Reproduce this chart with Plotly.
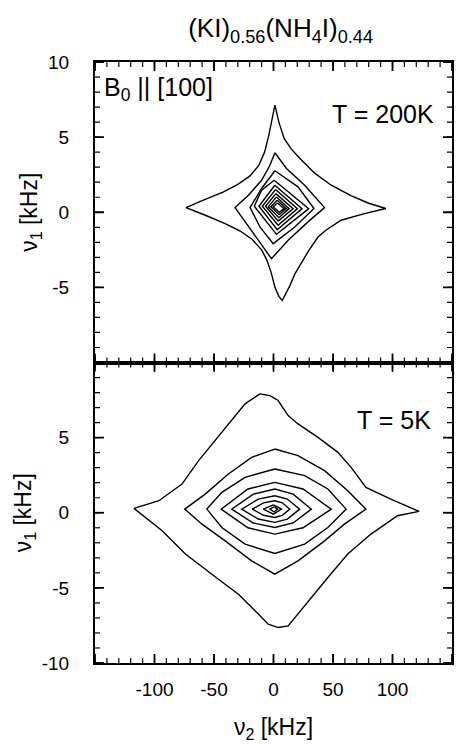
import plotly.graph_objects as go

# ---------------- data ----------------
title_text = "(KI)<sub>0.56</sub>(NH<sub>4</sub>I)<sub>0.44</sub>"
x_tickvals = [-100, -50, 0, 50, 100]
x_ticktext = ["-100", "-50", "0", "50", "100"]
top_y_tickvals = [10, 5, 0, -5]
top_y_ticktext = ["10", "5", "0", "-5"]
bot_y_tickvals = [5, 0, -5, -10]
bot_y_ticktext = ["5", "0", "-5", "-10"]
x_major_step = 50      # kHz between long nu2 ticks
x_minor_step = 10
y_major_step = 5       # kHz between long nu1 ticks
y_minor_step = 1
x_range = [-150, 150]
y_range = [-10, 10]

# T = 200 K contours (nu2 [kHz], nu1 [kHz]), outer -> inner
top_x = [
    [1.2, 4.5, 9.0, 15.0, 22.0, 34.6, 48.5, 65.0, 80.0, 94.4, 76.4, 56.8, 44.0, 37.4, 30.0, 24.0, 18.0, 13.7, 10.0, 7.3,
     4.5, 1.2, -2.0, -5.5, -10.0, -18.0, -28.0, -40.6, -57.3, -73.5, -62.0, -54.6, -42.0, -30.0, -20.0, -12.5, -7.5, -4.0, -1.5],
    [1.2, 10.9, 26.2, 42.9, 29.0, 12.3, -1.7, -12.8, -23.9, -32.3, -21.1, -10.0, -3.0],
    [1.2, 20.6, 34.0, 17.9, -0.25, -11.4, -19.7, -10.0],
    [0.6, 29.6, 2.5, -16.1, -10.0],
    [1.1, 24.0, 3.1, -12.2],
    [1.7, 20.1, 3.9, -9.4],
    [2.0, 16.5, 3.9, -6.7],
    [2.5, 13.1, 4.5, -4.4],
    [3.1, 10.9, 4.8, -2.2],
    [3.4, 8.9, 4.8, -0.25],
]
top_y = [
    [7.13, 6.0, 4.9, 4.2, 3.6, 2.6, 1.8, 1.1, 0.6, 0.25, -0.09, -0.53, -1.2, -1.65, -2.5, -3.3, -4.1, -4.9, -5.5, -5.87,
     -5.6, -5.0, -4.0, -3.2, -2.5, -1.8, -1.25, -0.75, -0.2, 0.31, 0.7, 0.95, 1.35, 1.85, 2.4, 3.1, 4.0, 5.1, 6.2],
    [3.96, 2.91, 1.8, 0.31, -0.64, -1.87, -3.09, -1.87, -0.64, 0.31, 1.13, 2.13, 3.13],
    [2.76, 1.69, 0.25, -0.98, -2.09, -0.98, 0.31, 1.58],
    [2.13, 0.24, -1.47, 0.4, 1.47],
    [1.8, 0.24, -1.16, 0.4],
    [1.51, 0.24, -0.87, 0.4],
    [1.24, 0.24, -0.58, 0.4],
    [1.02, 0.24, -0.36, 0.36],
    [0.8, 0.24, -0.16, 0.36],
    [0.62, 0.24, 0.0, 0.36],
]

# T = 5 K contours, outer -> inner
bot_x = [
    [-11.4, -3.0, 3.9, 12.3, 20.6, 37.4, 54.1, 65.2, 77.7, 98.6, 122.3, 104.2, 81.9, 62.4, 45.7, 31.8, 20.6, 12.3, 3.9, -4.4,
     -15.5, -29.5, -51.8, -74.0, -93.6, -117.2, -96.3, -76.9, -62.9, -49.0, -35.1, -23.9],
    [1.1, 20.6, 42.9, 62.4, 77.7, 59.6, 42.9, 20.6, 1.1, -18.4, -40.6, -60.1, -74.6, -57.4, -37.9, -18.4],
    [1.1, 26.2, 45.7, 61.0, 45.7, 26.2, 1.1, -23.9, -43.4, -56.0, -43.4, -23.9],
    [1.1, 24.8, 48.5, 24.8, 1.1, -21.5, -44.0, -21.5],
    [1.1, 16.5, 31.8, 16.5, 1.1, -17.0, -35.1, -17.0],
    [1.1, 11.6, 22.0, 11.6, 1.1, -12.8, -26.7, -12.8],
    [1.1, 7.4, 13.7, 7.4, 1.1, -8.4, -17.8, -8.4],
    [0.0, 6.7, 0.0, -8.6],
    [0.5, 3.5, 0.5, -3.0],
]
bot_y = [
    [7.91, 7.8, 7.47, 6.47, 5.91, 5.02, 4.02, 3.02, 1.69, 0.91, 0.09, -0.2, -1.42, -2.75, -4.31, -5.64, -6.76, -7.53, -7.64, -7.42,
     -6.53, -5.42, -4.09, -2.75, -1.2, 0.29, 0.8, 1.91, 3.47, 4.8, 6.13, 7.25],
    [4.24, 3.8, 2.8, 1.47, 0.24, -0.76, -1.87, -3.2, -4.09, -3.2, -1.87, -0.76, 0.24, 1.24, 2.58, 3.69],
    [2.91, 2.47, 1.58, 0.24, -0.98, -2.09, -2.71, -2.09, -0.98, 0.24, 1.36, 2.36],
    [2.02, 1.58, 0.24, -1.0, -1.42, -1.0, 0.24, 1.58],
    [1.58, 1.24, 0.24, -0.68, -0.98, -0.68, 0.24, 1.24],
    [1.13, 0.91, 0.24, -0.42, -0.64, -0.42, 0.24, 0.91],
    [0.8, 0.66, 0.24, -0.17, -0.31, -0.17, 0.24, 0.66],
    [0.53, 0.24, -0.09, 0.24],
    [0.4, 0.24, 0.05, 0.24],
]

# ---------------- figure ----------------
FONT = "Liberation Sans, Arial, Helvetica, sans-serif"
W, H = 458, 744
M = dict(l=95, r=4, t=62, b=81)
fig = go.Figure()

def add_contours(xs, ys, xa, ya):
    for cx, cy in zip(xs, ys):
        fig.add_trace(go.Scatter(
            x=list(cx) + [cx[0]], y=list(cy) + [cy[0]],
            mode="lines", line=dict(color="black", width=1.4),
            xaxis=xa, yaxis=ya, showlegend=False, hoverinfo="skip"))

add_contours(top_x, top_y, "x", "y")
add_contours(bot_x, bot_y, "x2", "y2")

# inward tick marks on all four sides of each panel, placed through the axes' own scales
plot_w = W - M["l"] - M["r"]
panel_h = (H - M["t"] - M["b"]) / 2
x_per_px = (x_range[1] - x_range[0]) / plot_w
y_per_px = (y_range[1] - y_range[0]) / panel_h

def tick_positions(lo, hi, step):
    k = -(-lo // step)
    vals = []
    while k * step <= hi + 1e-9:
        vals.append(k * step)
        k += 1
    return vals

def add_ticks(xa, ya, major_px, minor_px):
    for step, length_px, width in ((x_minor_step, minor_px, 1.2), (x_major_step, major_px, 1.8)):
        xs, ys = [], []
        dy = length_px * y_per_px
        for v in tick_positions(x_range[0], x_range[1], step):
            xs += [v, v, None, v, v, None]
            ys += [y_range[0], y_range[0] + dy, None, y_range[1], y_range[1] - dy, None]
        fig.add_trace(go.Scatter(x=xs, y=ys, mode="lines", line=dict(color="black", width=width),
                                 connectgaps=False, xaxis=xa, yaxis=ya, showlegend=False, hoverinfo="skip"))
    for step, length_px, width in ((y_minor_step, minor_px, 1.2), (y_major_step, major_px, 1.8)):
        xs, ys = [], []
        dx = length_px * x_per_px
        for v in tick_positions(y_range[0], y_range[1], step):
            xs += [x_range[0], x_range[0] + dx, None, x_range[1], x_range[1] - dx, None]
            ys += [v, v, None, v, v, None]
        fig.add_trace(go.Scatter(x=xs, y=ys, mode="lines", line=dict(color="black", width=width),
                                 connectgaps=False, xaxis=xa, yaxis=ya, showlegend=False, hoverinfo="skip"))

add_ticks("x", "y", 9, 5)
add_ticks("x2", "y2", 9, 5)

tickfont = dict(family=FONT, size=19, color="black")
lab_font = dict(family=FONT, size=23, color="black")

def axis(**kw):
    return dict(showgrid=False, zeroline=False, showline=True, linecolor="black", linewidth=2,
                mirror="ticks", ticks="inside", ticklen=9, tickcolor="black", tickwidth=1,
                tickmode="array", tickfont=tickfont, **kw)

ytitle = dict(text="ν<sub>1</sub> [kHz]", font=lab_font, standoff=4)

fig.update_layout(
    width=W, height=H, margin=M,
    paper_bgcolor="white", plot_bgcolor="white",
    title=dict(text=title_text, x=0.52, xref="paper", xanchor="center",
               y=0.962, yref="container", yanchor="middle",
               font=dict(family=FONT, size=26, color="black")),
    xaxis=axis(domain=[0, 1], anchor="y", range=x_range, tickvals=x_tickvals, ticktext=x_ticktext,
               showticklabels=False),
    yaxis=axis(domain=[0.5, 1], anchor="x", range=y_range, tickvals=top_y_tickvals, ticktext=top_y_ticktext,
               ticklabelstandoff=20, title=ytitle),
    xaxis2=axis(domain=[0, 1], anchor="y2", range=x_range, tickvals=x_tickvals, ticktext=x_ticktext,
                ticklabelstandoff=8, title=dict(text="ν<sub>2</sub> [kHz]", font=lab_font, standoff=20)),
    yaxis2=axis(domain=[0, 0.5], anchor="x2", range=y_range, tickvals=bot_y_tickvals, ticktext=bot_y_ticktext,
                ticklabelstandoff=20, title=ytitle),
)

ann_font = dict(family=FONT, size=25, color="black")
annotations = [
    dict(text="B<sub>0</sub> || [100]", x=0.02, y=0.985, xref="paper", yref="paper",
         xanchor="left", yanchor="top", showarrow=False, font=ann_font),
    dict(text="T = 200K", x=0.955, y=0.913, xref="paper", yref="paper",
         xanchor="right", yanchor="middle", showarrow=False, font=ann_font),
    dict(text="T = 5K", x=0.947, y=0.404, xref="paper", yref="paper",
         xanchor="right", yanchor="middle", showarrow=False, font=ann_font),
]
fig.update_layout(annotations=annotations)

fig.write_html("out.html")
